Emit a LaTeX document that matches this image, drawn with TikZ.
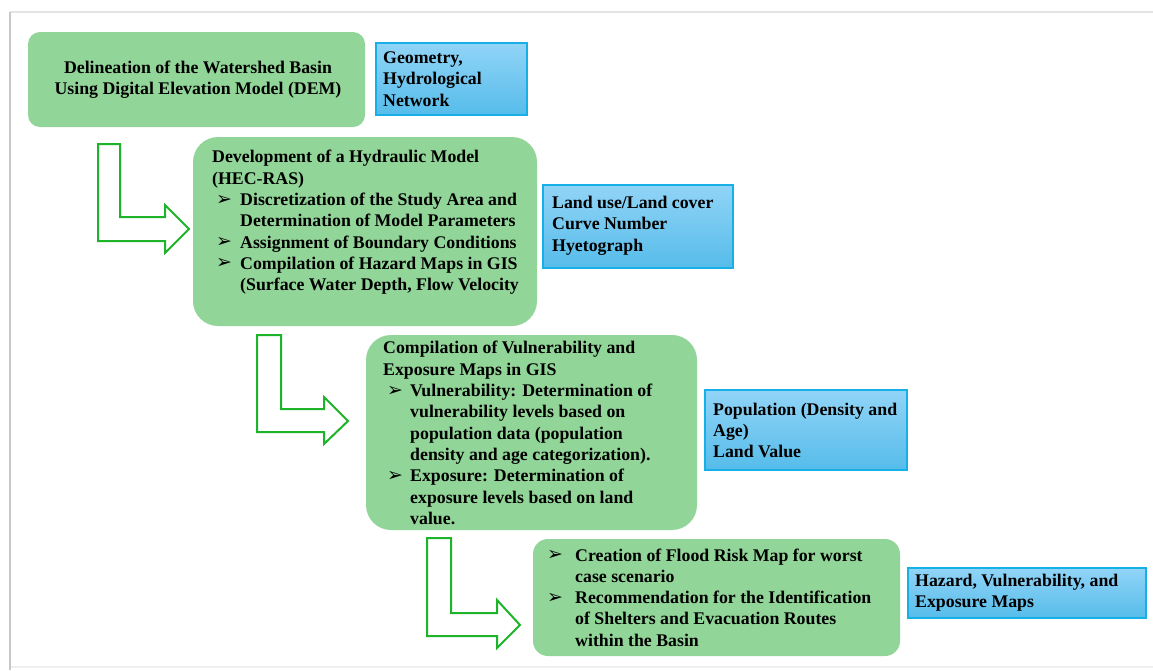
\documentclass[tikz,border=0pt]{standalone}
\usepackage{fontspec}
\newfontfamily\tf{Liberation Serif}
\newfontfamily\symf{DejaVu Sans}
\usetikzlibrary{calc}
\definecolor{gfill}{RGB}{146,213,152}
\definecolor{gline}{RGB}{30,180,42}
\definecolor{btop}{RGB}{145,212,247}
\definecolor{bbot}{RGB}{86,188,234}
\definecolor{bline}{RGB}{22,175,230}
\definecolor{frameL}{RGB}{200,200,200}
\definecolor{frameT}{RGB}{228,228,228}
\newcommand\bul[1]{\makebox[#1][l]{\hspace*{4pt}\raisebox{0.5pt}{\symf\fontsize{19}{19}\selectfont ➢}}}
\begin{document}
\begin{tikzpicture}[x=1pt,y=-1pt,
  greenbox/.style={fill=gfill, draw=none, inner sep=0pt},
  bluebox/.style={top color=btop, bottom color=bbot, draw=bline, line width=1.8pt, inner sep=0pt},
  txt/.style={font=\tf\bfseries\fontsize{17.8}{21.3}\selectfont, align=left, inner sep=0pt, text=black},
  harrow/.style={draw=gline, line width=2pt, fill=white, line join=miter}]
\useasboundingbox[fill=white] (0,0) rectangle (1153,670);
% page shadow frame
\draw[frameT, line width=2pt] (10,12) -- (1153,12);
\draw[frameT!60, line width=1.5pt] (10,667) -- (1153,667);
\draw[frameL, line width=2.5pt] (10,670) -- (10,12);

% green boxes
\node[greenbox, rounded corners=12pt, minimum width=337pt, minimum height=95pt] (g1) at (196.5,79.5) {};
\node[greenbox, rounded corners=25pt, minimum width=344pt, minimum height=189pt] (g2) at (365,231.5) {};
\node[greenbox, rounded corners=25pt, minimum width=331pt, minimum height=195pt] (g3) at (531.5,432.5) {};
\node[greenbox, rounded corners=15pt, minimum width=367pt, minimum height=117pt] (g4) at (716.5,597.5) {};

% blue boxes
\node[bluebox, minimum width=151pt, minimum height=72pt] (b1) at (451.5,79) {};
\node[bluebox, minimum width=190pt, minimum height=83pt] (b2) at (638,226.5) {};
\node[bluebox, minimum width=202pt, minimum height=80pt] (b3) at (806,430) {};
\node[bluebox, minimum width=238pt, minimum height=50pt] (b4) at (1027,593) {};

% texts
\node[txt, align=center] (g1t) at (198,79.5) {Delineation of the Watershed Basin\\Using Digital Elevation Model (DEM)};
\node[txt, anchor=west] (g2t) at (212,222.5) {Development of a Hydraulic Model\\(HEC-RAS)\\\bul{28pt}Discretization of the Study Area and\\\hspace*{28pt}Determination of Model Parameters\\\bul{28pt}Assignment of Boundary Conditions\\\bul{28pt}Compilation of Hazard Maps in GIS\\\hspace*{28pt}(Surface Water Depth, Flow Velocity};
\node[txt, anchor=west] (g3t) at (383,433) {Compilation of Vulnerability and\\Exposure Maps in GIS\\\bul{27pt}Vulnerability: Determination of\\\hspace*{27pt}vulnerability levels based on\\\hspace*{27pt}population data (population\\\hspace*{27pt}density and age categorization).\\\bul{27pt}Exposure: Determination of\\\hspace*{27pt}exposure levels based on land\\\hspace*{27pt}value.};
\node[txt, anchor=west] (g4t) at (543,597.5) {\bul{32pt}Creation of Flood Risk Map for worst\\\hspace*{32pt}case scenario\\\bul{32pt}Recommendation for the Identification\\\hspace*{32pt}of Shelters and Evacuation Routes\\\hspace*{32pt}within the Basin};

\node[txt, anchor=west] (b1t) at (383,79) {Geometry,\\Hydrological\\Network};
\node[txt, anchor=west] (b2t) at (552,225.5) {Land use/Land cover\\Curve Number\\Hyetograph};
\node[txt, anchor=west] (b3t) at (713,430.5) {Population (Density and\\Age)\\Land Value};
\node[txt, anchor=west] (b4t) at (915,593) {Hazard, Vulnerability, and\\Exposure Maps};

% bent arrows
\draw[harrow] (98,144) -- (120,144) -- (120,217) -- (165,217) -- (165,205) -- (189,229) -- (165,253) -- (165,241) -- (98,241) -- cycle;
\draw[harrow] (257,335) -- (281,335) -- (281,409) -- (324,409) -- (324,397) -- (348,421) -- (324,444) -- (324,432) -- (257,432) -- cycle;
\draw[harrow] (427,538) -- (451,538) -- (451,613) -- (497,613) -- (497,600) -- (520,625) -- (497,648) -- (497,636) -- (427,636) -- cycle;
\end{tikzpicture}
\end{document}
